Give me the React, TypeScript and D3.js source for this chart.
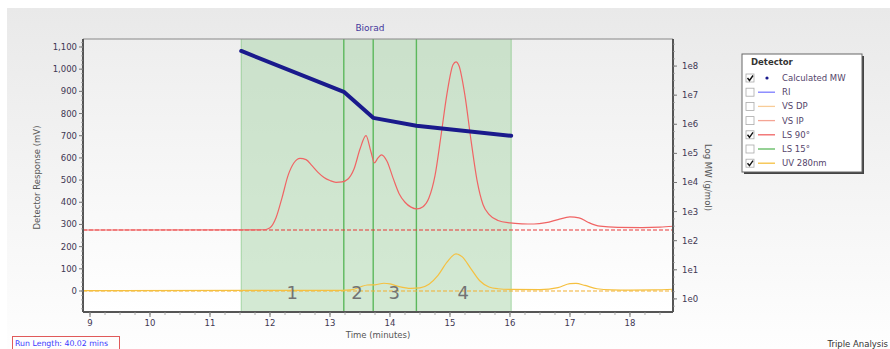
import React from 'react';
import * as d3 from 'd3';

// peak slice boundaries (minutes) and calculated MW at each boundary
const sliceTimes = [11.52, 13.23, 13.72, 14.44, 16.02];
const mwValues = [3.3e8, 1.3e7, 1.66e6, 8.9e5, 4.0e5];
const peakLabels = ['1', '2', '3', '4'];
const peakLabelTimes = [12.37, 13.45, 14.07, 15.22];

// LS 90° trace (mV)
const lsTimes = [8.88, 11.9, 12.0, 12.1, 12.2, 12.3, 12.4, 12.5, 12.6, 12.7, 12.8, 12.9, 13.0, 13.1, 13.2, 13.3, 13.4, 13.5, 13.6, 13.68, 13.74, 13.8, 13.86, 13.95, 14.05, 14.15, 14.25, 14.35, 14.45, 14.55, 14.65, 14.75, 14.85, 14.95, 15.05, 15.1, 15.15, 15.25, 15.35, 15.45, 15.55, 15.65, 15.8, 16.0, 16.2, 16.4, 16.6, 16.8, 17.0, 17.15, 17.3, 17.5, 17.8, 18.2, 18.5, 18.72];
const lsValues = [275, 276, 285, 330, 420, 520, 578, 598, 592, 565, 535, 512, 498, 490, 492, 505, 550, 640, 700, 630, 578, 600, 614, 585, 510, 440, 400, 378, 370, 380, 420, 520, 700, 890, 1020, 1033, 1015, 880, 680, 500, 390, 345, 318, 307, 303, 302, 308, 322, 334, 330, 310, 292, 287, 286, 288, 292];
const lsBaseline = 275;

// UV 280nm trace (mV)
const uvTimes = [8.88, 13.2, 13.35, 13.5, 13.62, 13.75, 13.9, 14.0, 14.15, 14.35, 14.5, 14.65, 14.8, 14.95, 15.1, 15.2, 15.35, 15.5, 15.65, 15.8, 16.0, 16.5, 16.8, 17.0, 17.1, 17.25, 17.45, 17.7, 18.0, 18.4, 18.72];
const uvValues = [2, 3, 5, 18, 27, 28, 35, 32, 20, 12, 14, 30, 70, 130, 167, 155, 100, 45, 18, 10, 7, 6, 15, 33, 34, 25, 10, 5, 4, 5, 8];
const uvBaseline = 0;

const leftTicks = [0, 100, 200, 300, 400, 500, 600, 700, 800, 900, 1000, 1100];
const rightTicks = [1, 10, 100, 1e3, 1e4, 1e5, 1e6, 1e7, 1e8];
const timeTicks = [9, 10, 11, 12, 13, 14, 15, 16, 17, 18];

const legendNames = ['Calculated MW', 'RI', 'VS DP', 'VS IP', 'LS 90°', 'LS 15°', 'UV 280nm'];
const legendChecked = [true, false, false, false, true, false, true];
const legendColors = ['#1a1a8c', '#7b7bff', '#f8cc98', '#f4a494', '#f06464', '#5cb85c', '#f5c040'];

const W = 890, H = 349;
const plot = { left: 83, right: 673, top: 39, bottom: 312 };
const font = '"DejaVu Sans", Verdana, sans-serif';
const tickColor = '#3e3652';

export default function App() {
  const x = d3.scaleLinear().domain([8.883, 18.717]).range([plot.left, plot.right]);
  const y = d3.scaleLinear().domain([-94.7, 1136]).range([plot.bottom, plot.top]);
  const yLog = d3.scaleLog().domain([Math.pow(10, -0.45), Math.pow(10, 8.93)]).range([plot.bottom, plot.top]);

  const trace = d3.line<[number, number]>()
    .x(d => x(d[0]))
    .y(d => y(d[1]))
    .curve(d3.curveMonotoneX);
  const lsPath = trace(lsTimes.map((t, i) => [t, lsValues[i]]));
  const uvPath = trace(uvTimes.map((t, i) => [t, uvValues[i]]));

  const mwPath = d3.line<number>()
    .x((d, i) => x(sliceTimes[i]))
    .y(d => yLog(d))(mwValues);

  const minorX = d3.range(9, 18.75, 0.25);
  const minorY = d3.range(-80, 1136, 20);
  const minorLog = d3.range(-0.25, 8.93, 0.25);

  const lx = 742, ly = 54;

  return (
    <svg width={W} height={H} style={{ position: 'absolute', left: 0, top: 0, fontFamily: font }}>
      <defs>
        <linearGradient id="panelBg" x1="0" y1="0" x2="0" y2="1">
          <stop offset="0" stopColor="#e9e9e9" />
          <stop offset="1" stopColor="#fefefe" />
        </linearGradient>
        <linearGradient id="plotBg" x1="0" y1="0" x2="0" y2="1">
          <stop offset="0" stopColor="#eeeeee" />
          <stop offset="1" stopColor="#ffffff" />
        </linearGradient>
        <clipPath id="plotClip">
          <rect x={plot.left} y={plot.top} width={plot.right - plot.left} height={plot.bottom - plot.top} />
        </clipPath>
      </defs>

      <rect x={0} y={0} width={W} height={H} fill="#fff" />
      <rect x={7} y={8} width={W - 7} height={H - 8} fill="url(#panelBg)" />
      <rect x={plot.left} y={plot.top} width={plot.right - plot.left} height={plot.bottom - plot.top} fill="url(#plotBg)" />

      <text x={370} y={31} textAnchor="middle" fontSize={9} fill="#43389c">Biorad</text>

      {/* peak slices */}
      <g clipPath="url(#plotClip)">
        <rect x={x(sliceTimes[0])} y={plot.top} width={x(sliceTimes[4]) - x(sliceTimes[0])}
          height={plot.bottom - plot.top} fill="#a8d4a8" fillOpacity={0.5} />
        {sliceTimes.map((t, i) => (
          <line key={i} x1={x(t)} x2={x(t)} y1={plot.top} y2={plot.bottom}
            stroke="#5cb85c" strokeWidth={i === 0 || i === 4 ? 0.8 : 1.4} strokeOpacity={i === 0 || i === 4 ? 0.6 : 1} />
        ))}

        {/* baselines */}
        <line x1={plot.left} x2={plot.right} y1={y(lsBaseline)} y2={y(lsBaseline)} stroke="#e83838" strokeWidth={1.2} strokeDasharray="4,2" />
        <line x1={plot.left} x2={plot.right} y1={y(uvBaseline)} y2={y(uvBaseline)} stroke="#f2b030" strokeWidth={1.2} strokeDasharray="4,2" />

        <path d={uvPath || ''} fill="none" stroke="#f5c040" strokeWidth={1.2} />
        <path d={lsPath || ''} fill="none" stroke="#f06464" strokeWidth={1.2} />

        {peakLabels.map((l, i) => (
          <text key={l} x={x(peakLabelTimes[i])} y={y(0) + 8} textAnchor="middle" fontSize={18} fill="#737373">{l}</text>
        ))}

        <path d={mwPath || ''} fill="none" stroke="#1a1a8c" strokeWidth={4} strokeLinejoin="round" strokeLinecap="round" />
      </g>

      {/* frame */}
      <line x1={plot.left} x2={plot.right} y1={plot.top} y2={plot.top} stroke="#888" strokeWidth={1} />
      <line x1={plot.left} x2={plot.left} y1={plot.top} y2={plot.bottom} stroke="#555" strokeWidth={2} />
      <line x1={plot.right} x2={plot.right} y1={plot.top} y2={plot.bottom} stroke="#555" strokeWidth={2} />
      <line x1={plot.left} x2={plot.right} y1={plot.bottom} y2={plot.bottom} stroke="#555" strokeWidth={2} />

      {/* left axis */}
      {minorY.map(v => (
        <line key={'my' + v} x1={plot.left - 2} x2={plot.left} y1={y(v)} y2={y(v)} stroke="#999" strokeWidth={0.8} />
      ))}
      {leftTicks.map(v => (
        <g key={'ly' + v}>
          <line x1={plot.left - 4} x2={plot.left} y1={y(v)} y2={y(v)} stroke="#777" />
          <text x={plot.left - 6} y={y(v)} dy="0.35em" textAnchor="end" fontSize={8.5} fill={tickColor}>{d3.format(',')(v)}</text>
        </g>
      ))}
      <text transform={`translate(40,${(plot.top + plot.bottom) / 2 + 2}) rotate(-90)`} textAnchor="middle" fontSize={8.5} fill="#555">Detector Response (mV)</text>

      {/* right axis */}
      {minorLog.map(v => (
        <line key={'ml' + v} x1={plot.right} x2={plot.right + 2} y1={yLog(Math.pow(10, v))} y2={yLog(Math.pow(10, v))} stroke="#999" strokeWidth={0.8} />
      ))}
      {rightTicks.map(v => (
        <g key={'ry' + v}>
          <line x1={plot.right} x2={plot.right + 4} y1={yLog(v)} y2={yLog(v)} stroke="#777" />
          <text x={plot.right + 9} y={yLog(v)} dy="0.35em" fontSize={8.5} fill={tickColor}>{'1e' + Math.round(Math.log10(v))}</text>
        </g>
      ))}
      <text transform={`translate(705,${(plot.top + plot.bottom) / 2 + 2}) rotate(90)`} textAnchor="middle" fontSize={8.5} fill="#555">Log MW (g/mol)</text>

      {/* time axis */}
      {minorX.map(v => (
        <line key={'mx' + v} x1={x(v)} x2={x(v)} y1={plot.bottom} y2={plot.bottom + 3} stroke="#999" strokeWidth={0.8} />
      ))}
      {timeTicks.map(v => (
        <g key={'tx' + v}>
          <line x1={x(v)} x2={x(v)} y1={plot.bottom} y2={plot.bottom + 5} stroke="#777" />
          <text x={x(v)} y={plot.bottom + 14} textAnchor="middle" fontSize={8.5} fill={tickColor}>{v}</text>
        </g>
      ))}
      <text x={(plot.left + plot.right) / 2} y={plot.bottom + 26} textAnchor="middle" fontSize={8.5} fill="#555">Time (minutes)</text>

      {/* legend */}
      <rect x={lx + 2} y={ly + 2} width={120} height={118} fill="#444" />
      <rect x={lx} y={ly} width={120} height={118} fill="#fff" stroke="#666" strokeWidth={1} />
      <text x={lx + 9} y={ly + 11} fontSize={8.5} fontWeight="bold" fill="#333">Detector</text>
      {legendNames.map((name, i) => {
        const ry = ly + 24 + i * 14.2;
        return (
          <g key={name}>
            <rect x={lx + 4} y={ry - 4} width={8} height={8} fill="#fff" stroke="#aaa" strokeWidth={0.8} />
            {legendChecked[i] && (
              <path d={`M${lx + 5.5},${ry} l2,2.5 l3.5,-5`} fill="none" stroke="#111" strokeWidth={1.4} />
            )}
            {i === 0
              ? <circle cx={lx + 25} cy={ry} r={1.6} fill={legendColors[i]} />
              : <line x1={lx + 16} x2={lx + 33} y1={ry} y2={ry} stroke={legendColors[i]} strokeWidth={1.3} />}
            <text x={lx + 40} y={ry} dy="0.35em" fontSize={8.5} fill="#54446a">{name}</text>
          </g>
        );
      })}

      {/* footer */}
      <rect x={12.5} y={336.5} width={107} height={14} fill="none" stroke="#e05a5a" strokeWidth={1} />
      <text x={15} y={345.5} fontSize={7.8} fill="#3a3aff">Run Length: 40.02 mins</text>
      <text x={888} y={347} textAnchor="end" fontSize={8.5} fill="#333">Triple Analysis</text>
    </svg>
  );
}
